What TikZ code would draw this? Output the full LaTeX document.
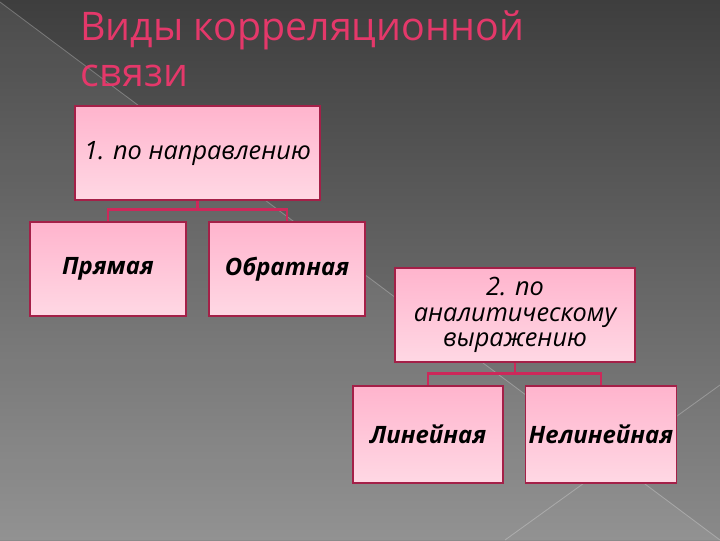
\documentclass[tikz,border=0pt]{standalone}
\usepackage{fontspec}
\setmainfont{Open Sans}
\usetikzlibrary{shadows}
\definecolor{crimson}{RGB}{205,40,90}
\definecolor{titlepink}{RGB}{228,56,106}
\definecolor{boxtop}{RGB}{255,180,205}
\definecolor{boxbottom}{RGB}{255,216,228}
\definecolor{bgtop}{RGB}{62,62,62}
\definecolor{bgbottom}{RGB}{138,138,138}
\begin{document}
\begin{tikzpicture}[x=0.025cm, y=-0.025cm,
    box/.style={draw=crimson!80!black, line width=0.8pt, top color=boxtop, bottom color=boxbottom,
                drop shadow={opacity=0.35, shadow xshift=1pt, shadow yshift=-1pt},
                inner sep=1pt, align=center, font=\fontsize{18}{18}\selectfont\itshape},
    leaf/.style={box, font=\fontsize{17}{18}\selectfont\bfseries\itshape},
    link/.style={crimson, line width=1.6pt},
    title/.style={anchor=base west, inner sep=0pt, text=titlepink, font=\fontsize{28}{34}\selectfont}]
    % background
    \useasboundingbox (0,0) rectangle (720,540);
    \shade [top color=bgtop, bottom color=bgbottom] (0,0) rectangle (720,540);
    \fill [white, opacity=0.07] (0,2) -- (720,540) -- (0,540) -- cycle;
    \draw [white, opacity=0.25, line width=0.6pt] (0,2) -- (720,540);
    \draw [white, opacity=0.25, line width=0.6pt] (720,385) -- (505,540);
    % title
    \node [title] (head1) at (80,40) {Виды корреляционной};
    \node [title] (head2) at (80,86) {связи};
    % first group
    \node [box, minimum width=6.125cm, minimum height=2.35cm] (dir) at (197.5,153) {1. по направлению};
    \node [leaf, minimum width=3.9cm, minimum height=2.35cm] (straight) at (108,269) {Прямая};
    \node [leaf, minimum width=3.9cm, minimum height=2.35cm] (inverse) at (287,269) {Обратная};
    \draw [link] (dir.south) -- ++(0,10);
    \draw [link] (straight.north) -- ++(0,-12) -| (inverse.north);
    % second group
    \node [box, minimum width=6cm, minimum height=2.35cm] (analytic) at (515,315) {2. по\\аналитическому\\выражению};
    \node [leaf, minimum width=3.75cm, minimum height=2.425cm] (linear) at (428,434.5) {Линейная};
    \node [leaf, minimum width=3.775cm, minimum height=2.425cm] (nonlinear) at (601,434.5) {Нелинейная};
    \draw [link] (analytic.south) -- ++(0,12);
    \draw [link] (linear.north) -- ++(0,-12) -| (nonlinear.north);
\end{tikzpicture}
\end{document}
